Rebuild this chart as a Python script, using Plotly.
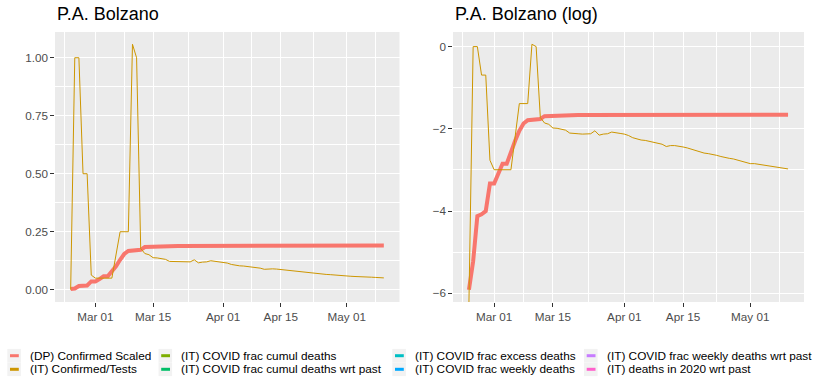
import numpy as np
import pandas as pd
import plotly.graph_objects as go

# P.A. Bolzano, daily values 2020-02-24 .. 2020-05-10
dates = pd.date_range("2020-02-24", "2020-05-10", freq="D")

confirmed_scaled = [
    0.0027, 0.0054, 0.0162, 0.0169, 0.0183, 0.0358,                      # Feb 24-29
    0.0358, 0.0455, 0.058, 0.058, 0.079, 0.101, 0.129, 0.154, 0.167,     # Mar 1-9
    0.170, 0.171, 0.172, 0.184, 0.185, 0.186, 0.188, 0.188,              # Mar 10-17
    0.189, 0.189, 0.189, 0.189, 0.189, 0.189, 0.189, 0.189, 0.189,       # Mar 18-26
    0.189, 0.189, 0.189, 0.189, 0.189,                                   # Mar 27-31
    0.189, 0.189, 0.189, 0.189, 0.189,                                   # Apr 1-5
    0.191, 0.191, 0.191, 0.191, 0.191, 0.191, 0.191, 0.191, 0.191,       # Apr 6-14
    0.191, 0.191, 0.191, 0.191, 0.191, 0.191, 0.191, 0.191, 0.191,       # Apr 15-23
    0.191, 0.191, 0.191, 0.191, 0.191, 0.191, 0.191,                     # Apr 24-30
    0.191, 0.191, 0.191, 0.191, 0.191, 0.191, 0.191, 0.191, 0.191, 0.191,  # May 1-10
]

confirmed_tests = [
    0.0, 1.0, 1.0, 0.5, 0.5, 0.063,                                      # Feb 24-29
    0.05, 0.05, 0.05, 0.05, 0.05, None, 0.25, 0.25, 0.25,                # Mar 1-9
    1.058, 1.0, 0.178, 0.156, 0.151, 0.138, 0.137, 0.135,                # Mar 10-17
    0.131, 0.122, 0.122, 0.120, 0.119, 0.119, 0.120, 0.129, 0.116,       # Mar 18-26
    0.119, 0.120, 0.125, 0.122, 0.121,                                   # Mar 27-31
    0.119, 0.115, 0.109, 0.105, 0.103,                                   # Apr 1-5
    0.102, 0.100, 0.097, 0.095, 0.093, 0.088, 0.090, 0.090, 0.089,       # Apr 6-14
    0.087, 0.085, 0.082, 0.080, 0.077, 0.075, 0.074, 0.073, 0.071,       # Apr 15-23
    0.069, 0.067, 0.066, 0.065, 0.063, 0.062, 0.060,                     # Apr 24-30
    0.058, 0.058, 0.057, 0.057, 0.056, 0.055, 0.054, 0.053, 0.052, 0.051,  # May 1-10
]

date_ticks = ["2020-03-01", "2020-03-15", "2020-04-01", "2020-04-15", "2020-05-01"]
date_labels = ["Mar 01", "Mar 15", "Apr 01", "Apr 15", "May 01"]
date_minor = ["2020-02-22 12:00", "2020-03-08", "2020-03-23 12:00",
              "2020-04-08", "2020-04-23", "2020-05-08"]

lin_ticks = [0, 0.25, 0.5, 0.75, 1.0]
lin_labels = ["0.00", "0.25", "0.50", "0.75", "1.00"]
lin_minor = [0.125, 0.375, 0.625, 0.875]
log_ticks = [-6, -4, -2, 0]
log_labels = ["\u22126", "\u22124", "\u22122", "0"]
log_minor = [-5, -3, -1]

legend_names = [
    "(DP) Confirmed Scaled", "(IT) Confirmed/Tests",
    "(IT) COVID frac cumul deaths", "(IT) COVID frac cumul deaths wrt past",
    "(IT) COVID frac excess deaths", "(IT) COVID frac weekly deaths",
    "(IT) COVID frac weekly deaths wrt past", "(IT) deaths in 2020 wrt past",
]
legend_colors = ["#F8766D", "#CD9600", "#7CAE00", "#00BE67",
                 "#00BFC4", "#00A9FF", "#C77CFF", "#FF61CC"]

W, H = 814, 380
FONT = "Liberation Sans"


def px(x):
    return x / W


def py(y):
    return 1 - y / H


def expand(values, mult=0.05):
    v = np.asarray(values, dtype=float)
    v = v[np.isfinite(v)]
    lo, hi = v.min(), v.max()
    span = hi - lo
    return [lo - mult * span, hi + mult * span]


scaled = np.array(confirmed_scaled, dtype=float)
tests = np.array([np.nan if v is None else v for v in confirmed_tests], dtype=float)

with np.errstate(divide="ignore"):
    log_scaled = np.log(scaled)
    log_tests = np.log(tests)

lin_range = expand(np.concatenate([scaled, tests]))
log_range = expand(np.concatenate([log_scaled, log_tests]))
# like ggplot, -Inf is drawn at the panel edge
log_tests = np.where(np.isneginf(log_tests), log_range[0], log_tests)

span = dates[-1] - dates[0]
x_range = [dates[0] - 0.05 * span, dates[-1] + 0.05 * span]

fig = go.Figure()

for xa, ya, ys in [("x", "y", (scaled, tests)), ("x2", "y2", (log_scaled, log_tests))]:
    fig.add_trace(go.Scatter(x=dates, y=ys[0], mode="lines", xaxis=xa, yaxis=ya,
                             line=dict(color=legend_colors[0], width=4),
                             name=legend_names[0], showlegend=False))
    fig.add_trace(go.Scatter(x=dates, y=ys[1], mode="lines", xaxis=xa, yaxis=ya,
                             line=dict(color=legend_colors[1], width=1),
                             connectgaps=True,
                             name=legend_names[1], showlegend=False))

tick_font = dict(family=FONT, size=11.7, color="#4D4D4D")
common_x = dict(
    type="date", range=x_range, tickmode="array", tickvals=date_ticks, ticktext=date_labels,
    showgrid=True, gridcolor="white", gridwidth=1.4, zeroline=False, showline=False,
    ticks="outside", ticklen=3.7, tickwidth=1.2, tickcolor="#333333", tickfont=tick_font,
    minor=dict(tickmode="array", tickvals=date_minor, showgrid=True,
               gridcolor="white", gridwidth=0.7, ticks=""),
)
common_y = dict(
    showgrid=True, gridcolor="white", gridwidth=1.4, zeroline=False, showline=False,
    ticks="outside", ticklen=3.7, tickwidth=1.2, tickcolor="#333333", tickfont=tick_font,
    tickmode="array",
)

fig.update_layout(
    width=W, height=H,
    margin=dict(l=0, r=0, t=0, b=0),
    paper_bgcolor="white", plot_bgcolor="#EBEBEB",
    showlegend=False,
    font=dict(family=FONT),
    xaxis=dict(domain=[px(55), px(399.5)], anchor="y", **common_x),
    xaxis2=dict(domain=[px(453), px(804)], anchor="y2", **common_x),
    yaxis=dict(domain=[py(302), py(32)], anchor="x", range=lin_range,
               tickvals=lin_ticks, ticktext=lin_labels,
               minor=dict(tickmode="array", tickvals=lin_minor, showgrid=True,
                          gridcolor="white", gridwidth=0.7, ticks=""),
               **common_y),
    yaxis2=dict(domain=[py(302), py(32)], anchor="x2", range=log_range,
                tickvals=log_ticks, ticktext=log_labels,
                minor=dict(tickmode="array", tickvals=log_minor, showgrid=True,
                           gridcolor="white", gridwidth=0.7, ticks=""),
                **common_y),
)

# panel titles
for x0, text in [(55, "P.A. Bolzano"), (453, "P.A. Bolzano (log)")]:
    fig.add_annotation(text=text, x=px(x0), y=py(14), xref="paper", yref="paper",
                       xanchor="left", yanchor="middle", showarrow=False,
                       font=dict(family=FONT, size=18, color="black"))

# legend at the bottom, 4 columns x 2 rows (filled column by column)
col_left = [7.3, 158.5, 392.3, 584]
row_mid = [355.7, 369.3]
key = 13.6
for i, (name, color) in enumerate(zip(legend_names, legend_colors)):
    x0 = col_left[i // 2]
    yc = row_mid[i % 2]
    fig.add_shape(type="rect", xref="paper", yref="paper",
                  x0=px(x0), x1=px(x0 + key), y0=py(yc + key / 2), y1=py(yc - key / 2),
                  fillcolor="#F2F2F2", line=dict(width=0), layer="below")
    fig.add_shape(type="line", xref="paper", yref="paper",
                  x0=px(x0 + 2.7), x1=px(x0 + 11.5), y0=py(yc), y1=py(yc),
                  line=dict(color=color, width=3))
    fig.add_annotation(text=name, x=px(x0 + 20.5), y=py(yc), xref="paper", yref="paper",
                       xanchor="left", yanchor="middle", showarrow=False,
                       font=dict(family=FONT, size=11.8, color="black"))

# drop the default 8px page margin so the figure fills the window
fig.write_html("out.html", config={"displayModeBar": False},
               post_script="document.body.style.margin = '0px';")
